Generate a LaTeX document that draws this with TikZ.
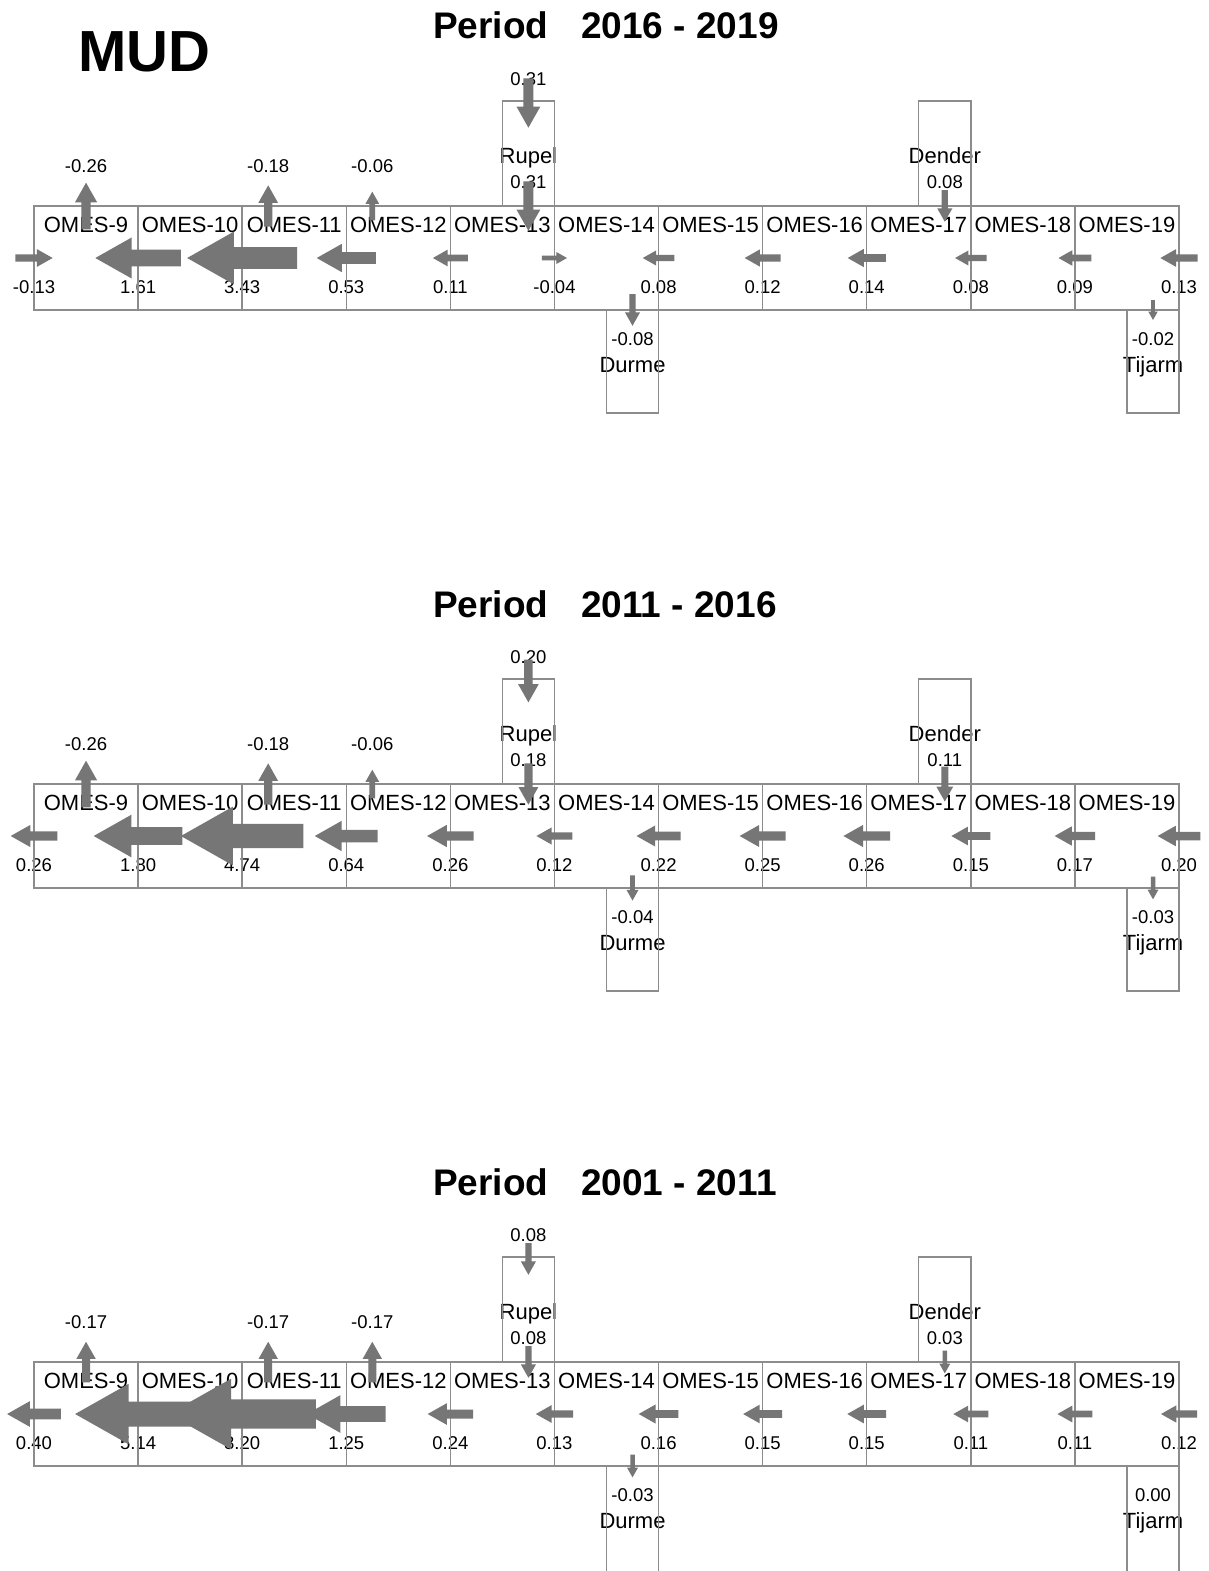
\documentclass[tikz,border=0pt]{standalone}
\usepackage{fontspec}
\setmainfont{Liberation Sans}
\definecolor{boxgray}{HTML}{8C8C8C}
\definecolor{arrowgray}{HTML}{767676}
\tikzset{
  box/.style={draw=boxgray, line width=1.4pt, inner sep=0pt, outer sep=0pt,
    minimum width=104.09pt, minimum height=104pt},
  tribbox/.style={draw=boxgray, line width=1.4pt, inner sep=0pt, outer sep=0pt,
    minimum width=52.05pt, minimum height=#1pt},
  omes/.style={font=\fontsize{22}{24}\selectfont, anchor=base, inner sep=0pt},
  num/.style={font=\fontsize{18.5}{20}\selectfont, anchor=base, inner sep=0pt},
  ptitle/.style={font=\fontsize{37}{40}\selectfont\bfseries, anchor=base west, inner sep=0pt},
}
% flow arrow: x, y, value, angle (0 right, 180 left, 90 up, -90 down)
\newcommand\flowarrow[4]{%
  \pgfmathtruncatemacro\fok{abs(#3)>0.0001}%
  \ifnum\fok=1
    \pgfmathsetmacro\fs{exp(ln(abs(#3))/3)}%
    \fill[arrowgray, shift={(#1,#2)}, rotate=#4]
      (-36.5*\fs,-7.25*\fs) -- (5.5*\fs,-7.25*\fs) -- (5.5*\fs,-17.5*\fs)
      -- (36.5*\fs,0) -- (5.5*\fs,17.5*\fs) -- (5.5*\fs,7.25*\fs)
      -- (-36.5*\fs,7.25*\fs) -- cycle;
  \fi}
% panel: tag, offset, years, flows, laterals, rupel top, rupel, dender, durme
\newcommand\panel[9]{%
\begin{scope}[shift={(0,#2)}]
  \node[ptitle] (#1period) at (433,39) {Period};
  \node[ptitle] (#1years) at (581,39) {#3};
  % texts
  \foreach \i in {0,...,10} {
    \pgfmathtruncatemacro\n{9+\i}
    \pgfmathsetmacro\xx{86.045+104.0909*\i}
    \node[omes] (#1lab\n) at (\xx,232) {OMES-\n};
  }
  \foreach \v [count=\i from 0] in {#4} {
    \pgfmathsetmacro\xx{34+104.0909*\i}
    \node[num] (#1flow\i) at (\xx,293) {\v};
  }
  \foreach \v [count=\i from 0] in {#5} {
    \pgfmathsetmacro\xx{{86.05,268.2,372.3}[\i]}
    \node[num] (#1lat\i) at (\xx,172) {\v};
  }
  \node[num] (#1rupeltopv) at (528.4,85) {#6};
  \node[omes] (#1rupeln) at (528.4,163) {Rupel};
  \node[num] (#1rupelv) at (528.4,188) {#7};
  \node[omes] (#1dendern) at (944.8,163) {Dender};
  \node[num] (#1denderv) at (944.8,188) {#8};
  \node[num] (#1durmev) at (632.5,345) {#9};
  \node[omes] (#1durmen) at (632.5,372) {Durme};
  \node[num] (#1tijarmv) at (1153,345) {\tijval};
  \node[omes] (#1tijarmn) at (1153,372) {Tijarm};
  % boxes
  \foreach \i in {0,...,10} {
    \pgfmathtruncatemacro\n{9+\i}
    \pgfmathsetmacro\xx{86.045+104.0909*\i}
    \node[box] (#1omes\n) at (\xx,258) {};
  }
  \node[tribbox=105] (#1rupel) at (528.4,153.5) {};
  \node[tribbox=105] (#1dender) at (944.8,153.5) {};
  \pgfmathsetmacro\ty{310+\tribh/2}
  \node[tribbox=\tribh] (#1durme) at (632.5,\ty) {};
  \node[tribbox=\tribh] (#1tijarm) at (1153,\ty) {};
  % arrows
  \foreach \v [count=\i from 0] in {#4} {
    \pgfmathsetmacro\xx{34+104.0909*\i}
    \pgfmathsetmacro\ang{\v<0 ? 0 : 180}
    \flowarrow{\xx}{258}{\v}{\ang}
  }
  \foreach \v [count=\i from 0] in {#5} {
    \pgfmathsetmacro\xx{{86.05,268.2,372.3}[\i]}
    \pgfmathsetmacro\ang{\v<0 ? 90 : -90}
    \flowarrow{\xx}{206}{\v}{\ang}
  }
  \flowarrow{528.4}{103}{#6}{-90}
  \flowarrow{528.4}{206}{#7}{-90}
  \flowarrow{944.8}{206}{#8}{-90}
  \flowarrow{632.5}{310}{#9}{-90}
  \flowarrow{1153}{310}{\tijval}{-90}
\end{scope}}

\begin{document}
\begin{tikzpicture}[x=1pt, y=-1pt]
  \fill[white] (0,0) rectangle (1208,1571);
  \useasboundingbox (0,0) rectangle (1208,1571);
  \node[font=\fontsize{58}{60}\selectfont\bfseries, anchor=base west, inner sep=0pt] (mud) at (78,71) {MUD};

  \def\tijval{-0.02}\def\tribh{103}
  \panel{a}{0}{2016 - 2019}{-0.13,1.61,3.43,0.53,0.11,-0.04,0.08,0.12,0.14,0.08,0.09,0.13}{-0.26,-0.18,-0.06}{0.31}{0.31}{0.08}{-0.08}

  \def\tijval{-0.03}\def\tribh{103}
  \panel{b}{578}{2011 - 2016}{0.26,1.80,4.74,0.64,0.26,0.12,0.22,0.25,0.26,0.15,0.17,0.20}{-0.26,-0.18,-0.06}{0.20}{0.18}{0.11}{-0.04}

  \def\tijval{0.00}\def\tribh{110}
  \panel{c}{1156}{2001 - 2011}{0.40,5.14,8.20,1.25,0.24,0.13,0.16,0.15,0.15,0.11,0.11,0.12}{-0.17,-0.17,-0.17}{0.08}{0.08}{0.03}{-0.03}
\end{tikzpicture}
\end{document}
